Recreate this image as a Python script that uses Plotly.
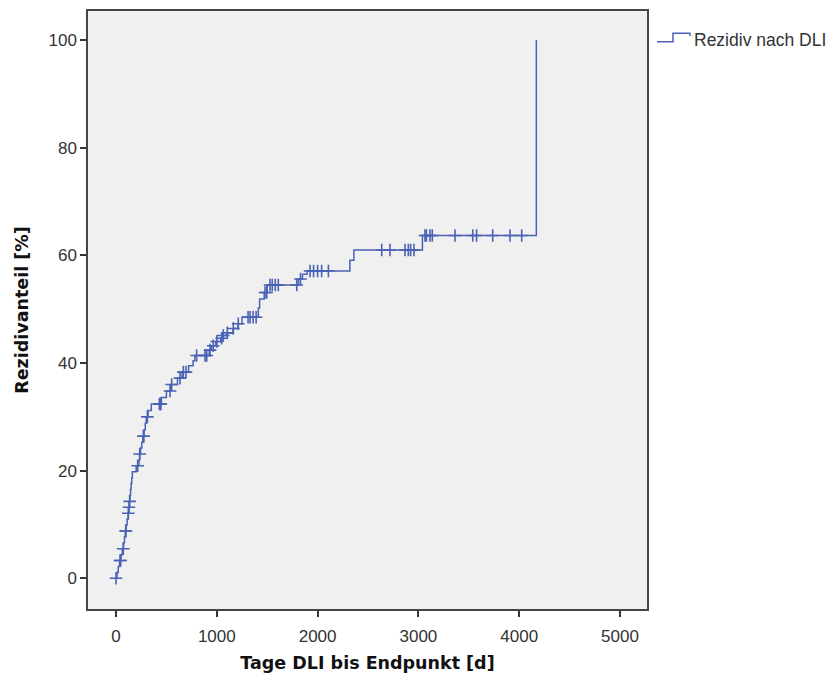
import numpy as np
import plotly.graph_objects as go

# Kaplan-Meier style cumulative relapse curve after DLI
# event days and cumulative relapse proportion (%) after each event
event_days = [0, 10, 22, 35, 48, 62, 74, 84, 92, 99, 110, 121, 128, 133, 138, 144,
              150, 156, 162, 200, 228, 234, 244, 256, 266, 278, 290, 300, 318, 350,
              450, 500, 545, 610, 655, 720, 765, 782, 925, 948, 990, 1040, 1062,
              1100, 1160, 1210, 1250, 1412, 1425, 1470, 1500, 1810, 1850, 1895,
              2320, 2360, 3040, 4170]
cum_pct = [0.0, 1.1, 2.2, 3.3, 4.4, 5.5, 6.6, 7.7, 8.8, 9.9, 11.0, 12.1, 13.2, 14.3,
           15.4, 16.5, 17.6, 18.7, 19.8, 20.9, 22.0, 23.1, 24.2, 25.3, 26.4, 27.6,
           28.8, 30.0, 31.2, 32.4, 33.6, 34.8, 36.0, 37.2, 38.3, 39.5, 40.4, 41.4,
           42.4, 43.2, 44.0, 44.6, 45.1, 45.6, 46.4, 47.3, 48.5, 50.2, 51.9, 53.1,
           54.5, 55.6, 56.5, 57.1, 59.1, 61.0, 63.7, 100.0]

# censored observations (days)
censor_days = [0, 40, 46, 72, 96, 98, 122, 129, 135, 215, 235, 271, 276, 311, 430,
               440, 445, 536, 552, 635, 668, 694, 800, 883, 900, 933, 965, 1000,
               1048, 1064, 1104, 1164, 1213, 1310, 1330, 1360, 1390, 1478, 1495,
               1528, 1550, 1580, 1610, 1793, 1830, 1925, 1960, 2000, 2040, 2107,
               2636, 2718, 2867, 2900, 2923, 2956, 3065, 3080, 3115, 3138, 3363,
               3539, 3577, 3737, 3909, 4025]

x_ticks = [0, 1000, 2000, 3000, 4000, 5000]
y_ticks = [0, 20, 40, 60, 80, 100]

series_name = "Rezidiv nach DLI"
line_color = "#4a62b4"

# censored marks sit on the step curve
idx = np.searchsorted(np.array(event_days), np.array(censor_days), side="right") - 1
censor_pct = np.array(cum_pct)[idx]

fig = go.Figure()
fig.add_trace(go.Scatter(
    x=event_days, y=cum_pct, mode="lines", line_shape="hv",
    line=dict(color=line_color, width=1.5), name=series_name, showlegend=False,
))
fig.add_trace(go.Scatter(
    x=censor_days, y=censor_pct, mode="markers",
    marker=dict(symbol="cross-thin", size=9,
                line=dict(color=line_color, width=1.6)),
    showlegend=False,
))

axis_font = dict(family="Liberation Sans, Arial", size=17, color="#333333")
title_font = dict(family="DejaVu Sans", size=17.5, color="#111111")

fig.update_xaxes(
    range=[-278, 5268], tickvals=x_ticks, ticks="outside", ticklen=6,
    tickcolor="#333333", tickwidth=1.5, showgrid=False, zeroline=False,
    showline=True, linecolor="#444444", linewidth=1.5, mirror=True,
    tickfont=axis_font, ticklabelstandoff=5,
    title=dict(text="<b>Tage DLI bis Endpunkt [d]</b>", font=title_font, standoff=12),
)
fig.update_yaxes(
    range=[-5.7, 105.4], tickvals=y_ticks, ticks="outside", ticklen=6,
    tickcolor="#333333", tickwidth=1.5, showgrid=False, zeroline=False,
    showline=True, linecolor="#444444", linewidth=1.5, mirror=True,
    tickfont=axis_font, ticklabelstandoff=0,
    title=dict(text="<b>Rezidivanteil [%]</b>", font=title_font, standoff=15),
)

# legend entry with a step glyph
pw, ph = 559.0, 601.0
def px(xp):
    return (xp - 88) / pw
def py(yp):
    return (610 - yp) / ph

glyph = (f"M {px(657):.4f},{py(40):.4f} L {px(673):.4f},{py(40):.4f} "
         f"L {px(673):.4f},{py(31.5):.4f} L {px(690):.4f},{py(31.5):.4f} "
         f"L {px(690):.4f},{py(34):.4f}")
fig.add_shape(type="path", path=glyph, xref="paper", yref="paper",
              line=dict(color=line_color, width=1.5))
fig.add_annotation(
    text=series_name, xref="paper", yref="paper", x=px(692), y=py(38),
    xanchor="left", yanchor="middle", showarrow=False,
    font=dict(family="Liberation Sans, Arial", size=17.5, color="#333333"),
)

fig.update_layout(
    width=830, height=679,
    margin=dict(l=88, r=183, t=9, b=69),
    plot_bgcolor="#F0F0F0", paper_bgcolor="white",
    showlegend=False,
)

fig.write_html("out.html")
